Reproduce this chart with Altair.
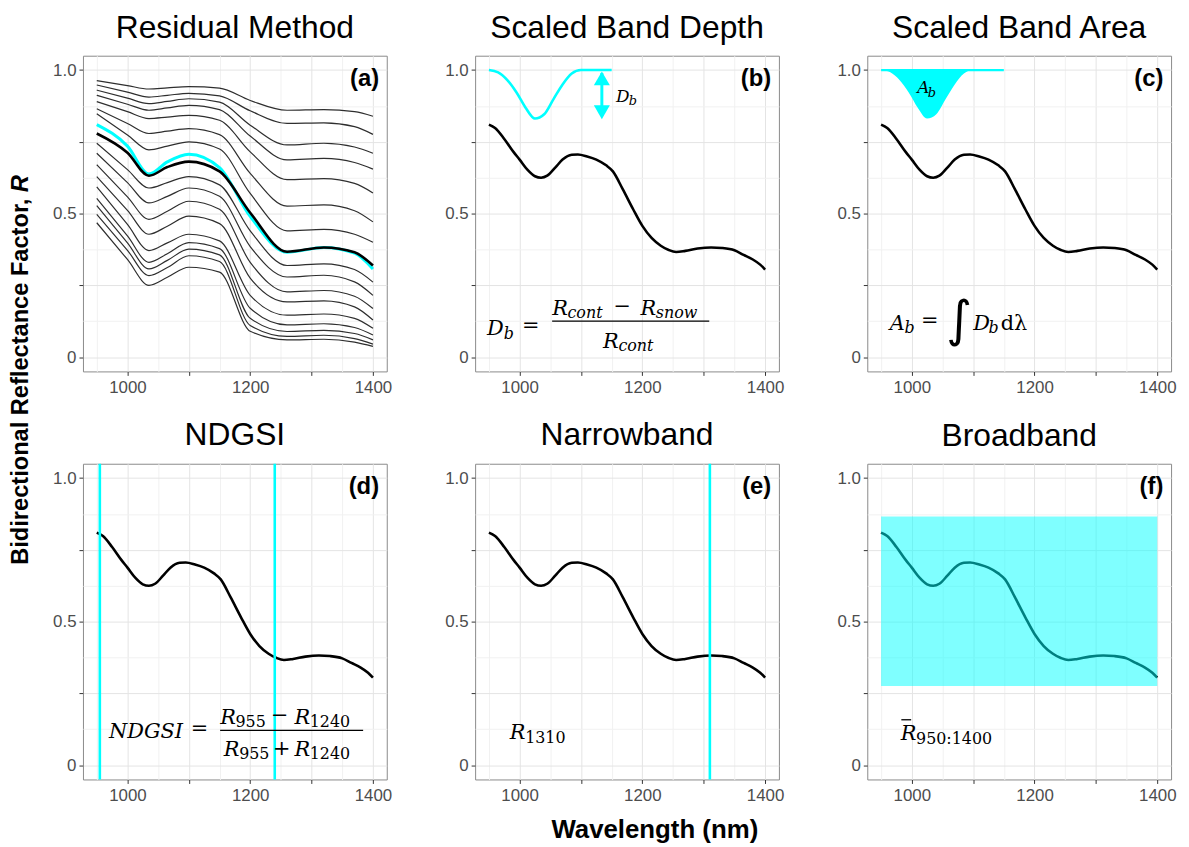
import altair as alt
import pandas as pd

# DATA ------------------------------------------------------------------------
# (a) family of modelled spectra, sampled at these wavelengths
wl_a = [950, 1000, 1035, 1065, 1100, 1150, 1200, 1260, 1320, 1370, 1400]
model_spectra = [
    [0.963, 0.946, 0.934, 0.938, 0.942, 0.937, 0.894, 0.860, 0.862, 0.855, 0.839],
    [0.948, 0.923, 0.906, 0.912, 0.919, 0.910, 0.858, 0.814, 0.816, 0.803, 0.776],
    [0.930, 0.902, 0.883, 0.891, 0.900, 0.888, 0.808, 0.739, 0.745, 0.732, 0.710],
    [0.912, 0.881, 0.860, 0.868, 0.877, 0.862, 0.770, 0.687, 0.692, 0.678, 0.655],
    [0.890, 0.855, 0.831, 0.836, 0.842, 0.825, 0.715, 0.618, 0.622, 0.605, 0.572],
    [0.865, 0.814, 0.779, 0.787, 0.796, 0.775, 0.640, 0.526, 0.530, 0.510, 0.471],
    [0.848, 0.774, 0.722, 0.735, 0.750, 0.725, 0.570, 0.440, 0.445, 0.428, 0.400],
    [0.745, 0.653, 0.589, 0.608, 0.629, 0.600, 0.440, 0.319, 0.325, 0.305, 0.261],
    [0.710, 0.608, 0.537, 0.560, 0.589, 0.560, 0.385, 0.279, 0.285, 0.262, 0.215],
    [0.670, 0.558, 0.480, 0.508, 0.543, 0.515, 0.330, 0.227, 0.232, 0.212, 0.169],
    [0.629, 0.511, 0.428, 0.456, 0.491, 0.465, 0.275, 0.192, 0.196, 0.175, 0.129],
    [0.593, 0.462, 0.371, 0.398, 0.428, 0.405, 0.215, 0.146, 0.150, 0.135, 0.100],
    [0.553, 0.422, 0.330, 0.360, 0.399, 0.378, 0.170, 0.112, 0.116, 0.103, 0.077],
    [0.528, 0.398, 0.307, 0.337, 0.376, 0.356, 0.135, 0.089, 0.093, 0.082, 0.060],
    [0.497, 0.372, 0.284, 0.312, 0.353, 0.333, 0.110, 0.072, 0.076, 0.064, 0.045],
    [0.468, 0.340, 0.250, 0.278, 0.313, 0.296, 0.090, 0.060, 0.062, 0.052, 0.037],
]
measured_a = [0.779, 0.712, 0.632, 0.662, 0.681, 0.647, 0.503, 0.367, 0.382, 0.365, 0.319]
best_fit_a = [0.810, 0.735, 0.638, 0.680, 0.707, 0.660, 0.490, 0.365, 0.382, 0.362, 0.307]

# (b)-(f) measured snow spectrum
spectrum_wl = [950, 960, 975, 990, 1000, 1013, 1025, 1035, 1045, 1058, 1070, 1085,
               1095, 1110, 1125, 1141, 1152, 1168, 1185, 1200, 1215, 1230, 1243,
               1255, 1270, 1290, 1312, 1330, 1350, 1365, 1380, 1392, 1400]
spectrum_r = [0.810, 0.798, 0.760, 0.715, 0.688, 0.652, 0.630, 0.625, 0.632, 0.660,
              0.688, 0.705, 0.706, 0.699, 0.688, 0.668, 0.647, 0.585, 0.515, 0.457,
              0.415, 0.388, 0.373, 0.366, 0.370, 0.378, 0.382, 0.380, 0.372, 0.356,
              0.340, 0.322, 0.305]

# continuum-removed absorption band (b, c)
band_wl = [950, 965, 980, 995, 1010, 1025, 1040, 1055, 1070, 1085, 1100, 1150]
band_r = [1.000, 0.992, 0.965, 0.922, 0.868, 0.831, 0.846, 0.898, 0.950, 0.988, 1.000, 1.000]
continuum = [1.0] * len(band_wl)
arrow_wl = [1134]
arrow_top, arrow_bottom = [0.99], [0.84]
arrow_heads = [0.971, 0.853]

ndgsi_bands = [955, 1240]
narrow_band = [1310]
broad_band = {"x1": [950], "x2": [1400], "y1": [0.276], "y2": [0.866]}

x_ticks = [950, 1000, 1050, 1100, 1150, 1200, 1250, 1300, 1350, 1400]
y_ticks = [0, 0.125, 0.25, 0.375, 0.5, 0.625, 0.75, 0.875, 1.0]

titles = ["Residual Method", "Scaled Band Depth", "Scaled Band Area",
          "NDGSI", "Narrowband", "Broadband"]
tags = ["(a)", "(b)", "(c)", "(d)", "(e)", "(f)"]

# math annotations: panel, text, wavelength, baseline R, size, style
math_text = [
    ("b", "D", 947, 0.076, 21, "italic"), ("b", "b", 974, 0.062, 16, "italic"),
    ("b", "=", 1004, 0.088, 21, "normal"),
    ("b", "R", 1053, 0.148, 21, "italic"), ("b", "cont", 1078, 0.135, 16, "italic"),
    ("b", "\u2212", 1153, 0.152, 21, "normal"),
    ("b", "R", 1197, 0.148, 21, "italic"), ("b", "snow", 1222, 0.135, 16, "italic"),
    ("b", "R", 1136, 0.031, 21, "italic"), ("b", "cont", 1161, 0.020, 16, "italic"),
    ("b", "D", 1157, 0.890, 17, "italic"), ("b", "b", 1178, 0.878, 13, "italic"),
    ("c", "A", 964, 0.096, 21, "italic"), ("c", "b", 988, 0.083, 16, "italic"),
    ("c", "=", 1015, 0.104, 21, "normal"),
    ("c", "\u222b", 1056, 0.072, 50, "integral"),
    ("c", "D", 1100, 0.096, 21, "italic"), ("c", "b", 1125, 0.083, 16, "italic"),
    ("c", "d\u03bb", 1145, 0.096, 21, "normal"),
    ("c", "A", 1009, 0.919, 17, "italic"), ("c", "b", 1026, 0.907, 13, "italic"),
    ("d", "NDGSI", 970, 0.094, 21, "italic"), ("d", "=", 1103, 0.105, 21, "normal"),
    ("d", "R", 1151, 0.144, 21, "italic"), ("d", "955", 1176, 0.133, 16, "normal"),
    ("d", "\u2212", 1234, 0.150, 21, "normal"),
    ("d", "R", 1272, 0.144, 21, "italic"), ("d", "1240", 1297, 0.133, 16, "normal"),
    ("d", "R", 1157, 0.031, 21, "italic"), ("d", "955", 1182, 0.020, 16, "normal"),
    ("d", "+", 1237, 0.035, 21, "normal"),
    ("d", "R", 1272, 0.031, 21, "italic"), ("d", "1240", 1297, 0.020, 16, "normal"),
    ("e", "R", 984, 0.092, 21, "italic"), ("e", "1310", 1009, 0.078, 16, "normal"),
    ("f", "R", 982, 0.089, 21, "italic"), ("f", "950:1400", 1007, 0.072, 16, "normal"),
]
# fraction bars / overbar: panel, from, to, R
math_rules = [("b", 1053, 1309, 0.125), ("d", 1151, 1384, 0.121), ("f", 983, 999, 0.158)]

# STYLE -------------------------------------------------------------------------
FONT = "Liberation Sans"
MATH = "DejaVu Serif"
CYAN = "#00ffff"
W, H = 306, 318

x_scale = alt.Scale(domain=[927.5, 1422.5], nice=False, zero=False)
y_scale = alt.Scale(domain=[-0.05, 1.05], nice=False, zero=False)
x_axis = alt.Axis(
    values=x_ticks, title=None, labelFlush=False, labelPadding=4,
    labelExpr="datum.value % 200 === 0 ? '' + datum.value : ''",
    tickOpacity={"condition": {"test": "datum.value % 100 === 0", "value": 1}, "value": 0},
    gridColor={"condition": {"test": "datum.value % 100 === 0", "value": "#e4e4e4"}, "value": "#f1f1f1"},
)
y_axis = alt.Axis(
    values=y_ticks, title=None, labelFlush=False,
    labelExpr="datum.value === 0 ? '0' : datum.value === 0.5 ? '0.5' : datum.value === 1 ? '1.0' : ''",
    tickOpacity={"condition": {"test": "datum.value * 4 % 1 === 0", "value": 1}, "value": 0},
    gridColor={"condition": {"test": "datum.value * 4 % 1 === 0", "value": "#e4e4e4"}, "value": "#f1f1f1"},
)


def xy(x="wl", y="r"):
    return dict(x=alt.X(f"{x}:Q", scale=x_scale, axis=x_axis),
                y=alt.Y(f"{y}:Q", scale=y_scale, axis=y_axis))


spec_df = pd.DataFrame({"wl": spectrum_wl, "r": spectrum_r})
band_df = pd.DataFrame({"wl": band_wl, "r": band_r, "top": continuum})
text_df = pd.DataFrame(math_text, columns=["panel", "t", "wl", "r", "size", "style"])
rule_df = pd.DataFrame(math_rules, columns=["panel", "wl", "wl2", "r"])


def spectrum():
    return alt.Chart(spec_df).mark_line(
        color="black", strokeWidth=2.6, interpolate="monotone").encode(**xy())


def tag(i):
    df = pd.DataFrame({"wl": [1410], "r": [0.968], "t": [tags[i]]})
    return alt.Chart(df).mark_text(
        align="right", baseline="middle", font=FONT, fontWeight="bold",
        fontSize=24, color="black").encode(**xy(), text="t:N")


def maths(p):
    layers = []
    fonts = {"italic": (MATH, "italic"), "normal": (MATH, "normal"),
             "integral": ("DejaVu Sans", "italic")}
    for style, (font, font_style) in fonts.items():
        sub = text_df[(text_df.panel == p) & (text_df["style"] == style)]
        if len(sub):
            layers.append(alt.Chart(sub).mark_text(
                align="left", baseline="alphabetic", font=font, fontStyle=font_style,
                fontWeight=300 if style == "integral" else "normal",
                color="black").encode(**xy(), text="t:N",
                                      size=alt.Size("size:Q", scale=None)))
    sub = rule_df[rule_df.panel == p]
    if len(sub):
        layers.append(alt.Chart(sub).mark_rule(color="black", strokeWidth=1.3).encode(
            **xy(), x2="wl2:Q"))
    return layers


def panel(i, layers):
    return alt.layer(*layers, tag(i)).properties(width=W, height=H, title=titles[i])


# (a) residual method ------------------------------------------------------------
rows = []
for k, line in enumerate(model_spectra):
    rows += [{"wl": w, "r": v, "line": k} for w, v in zip(wl_a, line)]
models_df = pd.DataFrame(rows)
fit_df = pd.DataFrame({"wl": wl_a, "r": best_fit_a})
meas_df = pd.DataFrame({"wl": wl_a, "r": measured_a})

gray = alt.Chart(models_df).mark_line(
    color="#2e2e2e", strokeWidth=1.2, interpolate="monotone").encode(**xy(), detail="line:N")
fit = alt.Chart(fit_df).mark_line(color=CYAN, strokeWidth=3, interpolate="monotone").encode(**xy())
meas = alt.Chart(meas_df).mark_line(color="black", strokeWidth=2.6, interpolate="monotone").encode(**xy())

one = pd.DataFrame({"t": [0]})
ytitle_main = alt.Chart(one).mark_text(
    text="Bidirectional Reflectance Factor,", angle=270, align="right", baseline="middle",
    font=FONT, fontWeight="bold", fontSize=23.8, color="black").encode(
    x=alt.value(-62), y=alt.value(144))
ytitle_r = alt.Chart(one).mark_text(
    text="R", angle=270, align="left", baseline="middle", font=FONT, fontWeight="bold",
    fontStyle="italic", fontSize=23.8, color="black").encode(x=alt.value(-62), y=alt.value(137.5))

pa = panel(0, [gray, fit, meas, ytitle_main, ytitle_r])

# (b) scaled band depth -----------------------------------------------------------
band_line = alt.Chart(band_df).mark_line(color=CYAN, strokeWidth=2.6, interpolate="monotone").encode(**xy())
arrow_df = pd.DataFrame({"wl": arrow_wl, "top": arrow_top, "bottom": arrow_bottom})
arrow = alt.Chart(arrow_df).mark_rule(color=CYAN, strokeWidth=3).encode(
    **xy("wl", "top"), y2="bottom:Q")
heads_df = pd.DataFrame({"wl": arrow_wl * 2, "r": arrow_heads,
                         "shape": ["triangle-up", "triangle-down"]})
heads = alt.Chart(heads_df).mark_point(filled=True, size=260, color=CYAN, opacity=1).encode(
    **xy(), shape=alt.Shape("shape:N", scale=None))
pb = panel(1, [spectrum(), band_line, arrow, heads] + maths("b"))

# (c) scaled band area -------------------------------------------------------------
area = alt.Chart(band_df).mark_area(color=CYAN, opacity=1, interpolate="monotone").encode(
    **xy(), y2="top:Q")
cont = alt.Chart(band_df).mark_line(color=CYAN, strokeWidth=2.2).encode(**xy("wl", "top"))
pc = panel(2, [spectrum(), area, cont] + maths("c"))

# (d) NDGSI -------------------------------------------------------------------------
d_rules = alt.Chart(pd.DataFrame({"wl": ndgsi_bands})).mark_rule(
    color=CYAN, strokeWidth=2.6).encode(x=alt.X("wl:Q", scale=x_scale, axis=x_axis))
pd_ = panel(3, [spectrum(), d_rules] + maths("d"))

# (e) narrowband --------------------------------------------------------------------
e_rule = alt.Chart(pd.DataFrame({"wl": narrow_band})).mark_rule(
    color=CYAN, strokeWidth=2.6).encode(x=alt.X("wl:Q", scale=x_scale, axis=x_axis))
xtitle = alt.Chart(one).mark_text(
    text="Wavelength (nm)", align="center", baseline="middle", font=FONT,
    fontWeight="bold", fontSize=26, color="black").encode(x=alt.value(181), y=alt.value(369))
pe = panel(4, [spectrum(), e_rule, xtitle] + maths("e"))

# (f) broadband ---------------------------------------------------------------------
rect = alt.Chart(pd.DataFrame(broad_band)).mark_rect(color=CYAN, opacity=0.5).encode(
    **xy("x1", "y1"), x2="x2:Q", y2="y2:Q")
pf = panel(5, [spectrum(), rect] + maths("f"))

chart = alt.concat(
    pa, pb, pc, pd_, pe, pf, columns=3, bounds="flush",
    spacing=alt.RowColnumber(row=93, column=89)
).properties(
    padding={"left": 0.5, "top": 0, "right": 4, "bottom": 4}
).configure_view(
    stroke="#8a8a8a", strokeWidth=1
).configure_axis(
    labelFont=FONT, labelFontSize=17, labelColor="#4d4d4d", tickColor="#333333",
    tickSize=4, domain=False, labelPadding=3
).configure_title(
    font=FONT, fontSize=32, fontWeight="normal", color="black", anchor="middle",
    baseline="alphabetic", offset=11
)

chart.save("out.html", embed_options={"renderer": "svg", "actions": False})
